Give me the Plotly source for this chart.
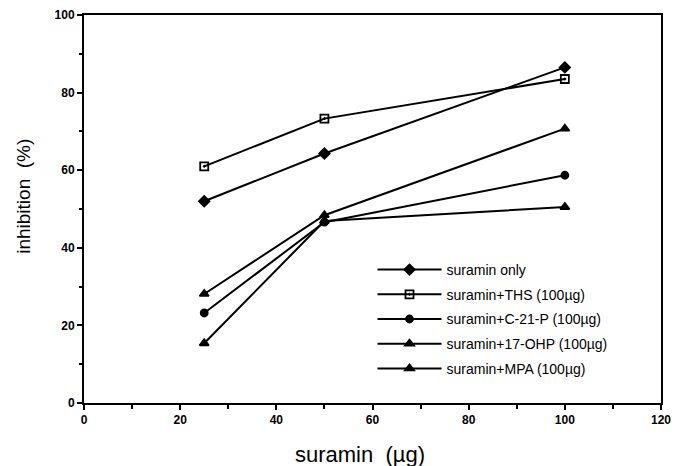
import plotly.graph_objects as go

x_vals = [25, 50, 100]
names = ["suramin only", "suramin+THS (100µg)", "suramin+C-21-P (100µg)",
         "suramin+17-OHP (100µg)", "suramin+MPA (100µg)"]
suramin_only = [52.0, 64.3, 86.5]
ths = [61.0, 73.3, 83.5]
c21p = [23.2, 46.6, 58.7]
ohp17 = [28.1, 48.4, 70.7]
mpa = [15.4, 46.9, 50.5]
series = [suramin_only, ths, c21p, ohp17, mpa]
symbols = ["diamond", "square-open-dot", "circle", "triangle-up", "triangle-up"]
sizes = [8, 8, 7, 8, 8]
x_ticks = [0, 20, 40, 60, 80, 100, 120]
y_ticks = [0, 20, 40, 60, 80, 100]

fig = go.Figure()
for i, (name, ys, sym, sz) in enumerate(zip(names, series, symbols, sizes)):
    fig.add_trace(go.Scatter(
        x=x_vals, y=ys, mode="lines+markers", name=name, legendgroup=f"g{i}",
        line=dict(color="black", width=2),
        marker=dict(symbol=sym, size=sz, color="black",
                    line=dict(color="black", width=1.8)),
    ))

font_fam = "Liberation Sans, Arial, sans-serif"
# page body has an 8px margin, so the figure is sized to fit the window after that offset
fig.update_layout(
    width=679, height=458,
    margin=dict(l=76, r=26, t=7, b=63),
    paper_bgcolor="white", plot_bgcolor="white",
    font=dict(family=font_fam, color="black"),
    showlegend=True,
    legend=dict(x=0.5, y=0.384, xanchor="left", yanchor="top",
                bgcolor="rgba(0,0,0,0)", font=dict(size=14, color="black"),
                itemwidth=64, tracegroupgap=3.5),
    xaxis=dict(range=[0, 120], tickvals=x_ticks, automargin=False,
               ticks="outside", ticklen=5, tickwidth=2, tickcolor="black",
               minor=dict(dtick=10, ticks="outside", ticklen=4, tickwidth=1.5, tickcolor="black"),
               showline=True, linecolor="black", linewidth=2, mirror=True,
               showgrid=False, zeroline=False,
               tickfont=dict(size=12, family=font_fam, weight="bold")),
    yaxis=dict(range=[0, 100], tickvals=y_ticks, automargin=False,
               ticks="outside", ticklen=5, tickwidth=2, tickcolor="black",
               minor=dict(dtick=10, ticks="outside", ticklen=3, tickwidth=1.5, tickcolor="black"),
               showline=True, linecolor="black", linewidth=2, mirror=True,
               showgrid=False, zeroline=False,
               tickfont=dict(size=12, family=font_fam, weight="bold")),
    annotations=[
        dict(text="suramin  (µg)", xref="paper", yref="paper", x=0.478, y=-0.132,
             xanchor="center", yanchor="middle", showarrow=False,
             font=dict(size=22, family=font_fam, color="black")),
        dict(text="inhibition  (%)", xref="paper", yref="paper", x=-0.104, y=0.534,
             xanchor="center", yanchor="middle", showarrow=False, textangle=-90,
             font=dict(size=19, family=font_fam, color="black")),
    ],
)

fig.write_html("out.html")
